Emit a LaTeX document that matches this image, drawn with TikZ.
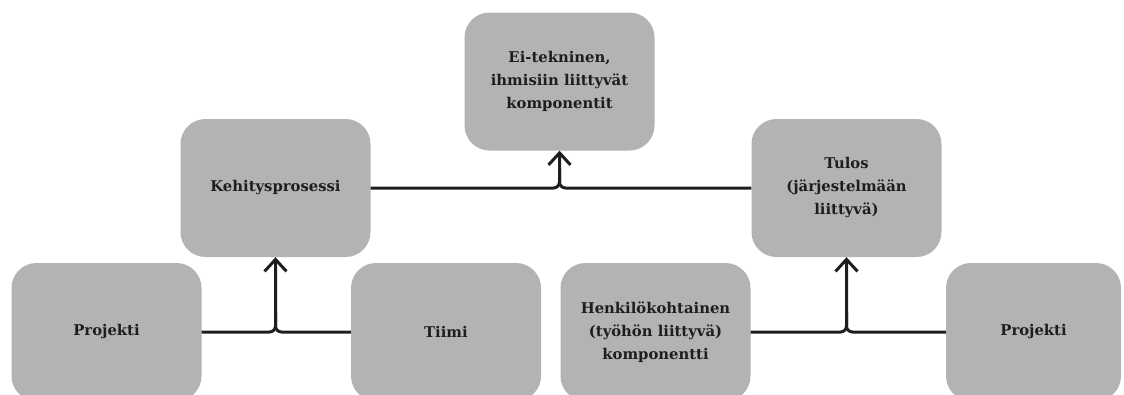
\documentclass[tikz,border=0pt]{standalone}
\usepackage{fontspec}
\setmainfont{DejaVu Serif}
\usetikzlibrary{arrows.meta}
\definecolor{boxgray}{HTML}{B3B3B3}
\definecolor{ink}{HTML}{1E1E1E}
\begin{document}
\begin{tikzpicture}[x=1pt,y=-1pt,
  box/.style={draw=none, fill=boxgray, rounded corners=25pt, minimum width=190pt,
    minimum height=138pt, align=center, inner sep=0pt, text=ink,
    font=\bfseries\fontsize{14.8}{23}\selectfont},
  conn/.style={draw=ink, line width=3pt, rounded corners=6pt},
  tipped/.style={-{Straight Barb[length=12pt,width=22pt]}}]
\useasboundingbox (0,0) rectangle (1124,394);
\node[box] (top) at (559.5,81.5) {Ei-tekninen,\\ihmisiin liittyvät\\komponentit};
\node[box] (kehi) at (275.5,188) {Kehitysprosessi};
\node[box] (tulos) at (846.5,188) {Tulos\\(järjestelmään\\liittyvä)};
\node[box] (p1) at (106.5,332) {Projekti};
\node[box] (tiimi) at (446,332) {Tiimi};
\node[box] (henk) at (655.5,332) {Henkilökohtainen\\(työhön liittyvä)\\komponentti};
\node[box, minimum width=175pt] (p2) at (1033.5,332) {Projekti};
\coordinate (j0) at (top.south |- kehi.east);
\coordinate (j1) at (kehi.south |- p1.east);
\coordinate (j2) at (tulos.south |- henk.east);
\draw[conn, tipped] (kehi.east) -- (j0) -- (top.south);
\draw[conn] (tulos.west) -- (j0) -- ++(0,-20);
\draw[conn, tipped] (p1.east) -- (j1) -- (kehi.south);
\draw[conn] (tiimi.west) -- (j1) -- ++(0,-20);
\draw[conn, tipped] (henk.east) -- (j2) -- (tulos.south);
\draw[conn] (p2.west) -- (j2) -- ++(0,-20);
\end{tikzpicture}
\end{document}
